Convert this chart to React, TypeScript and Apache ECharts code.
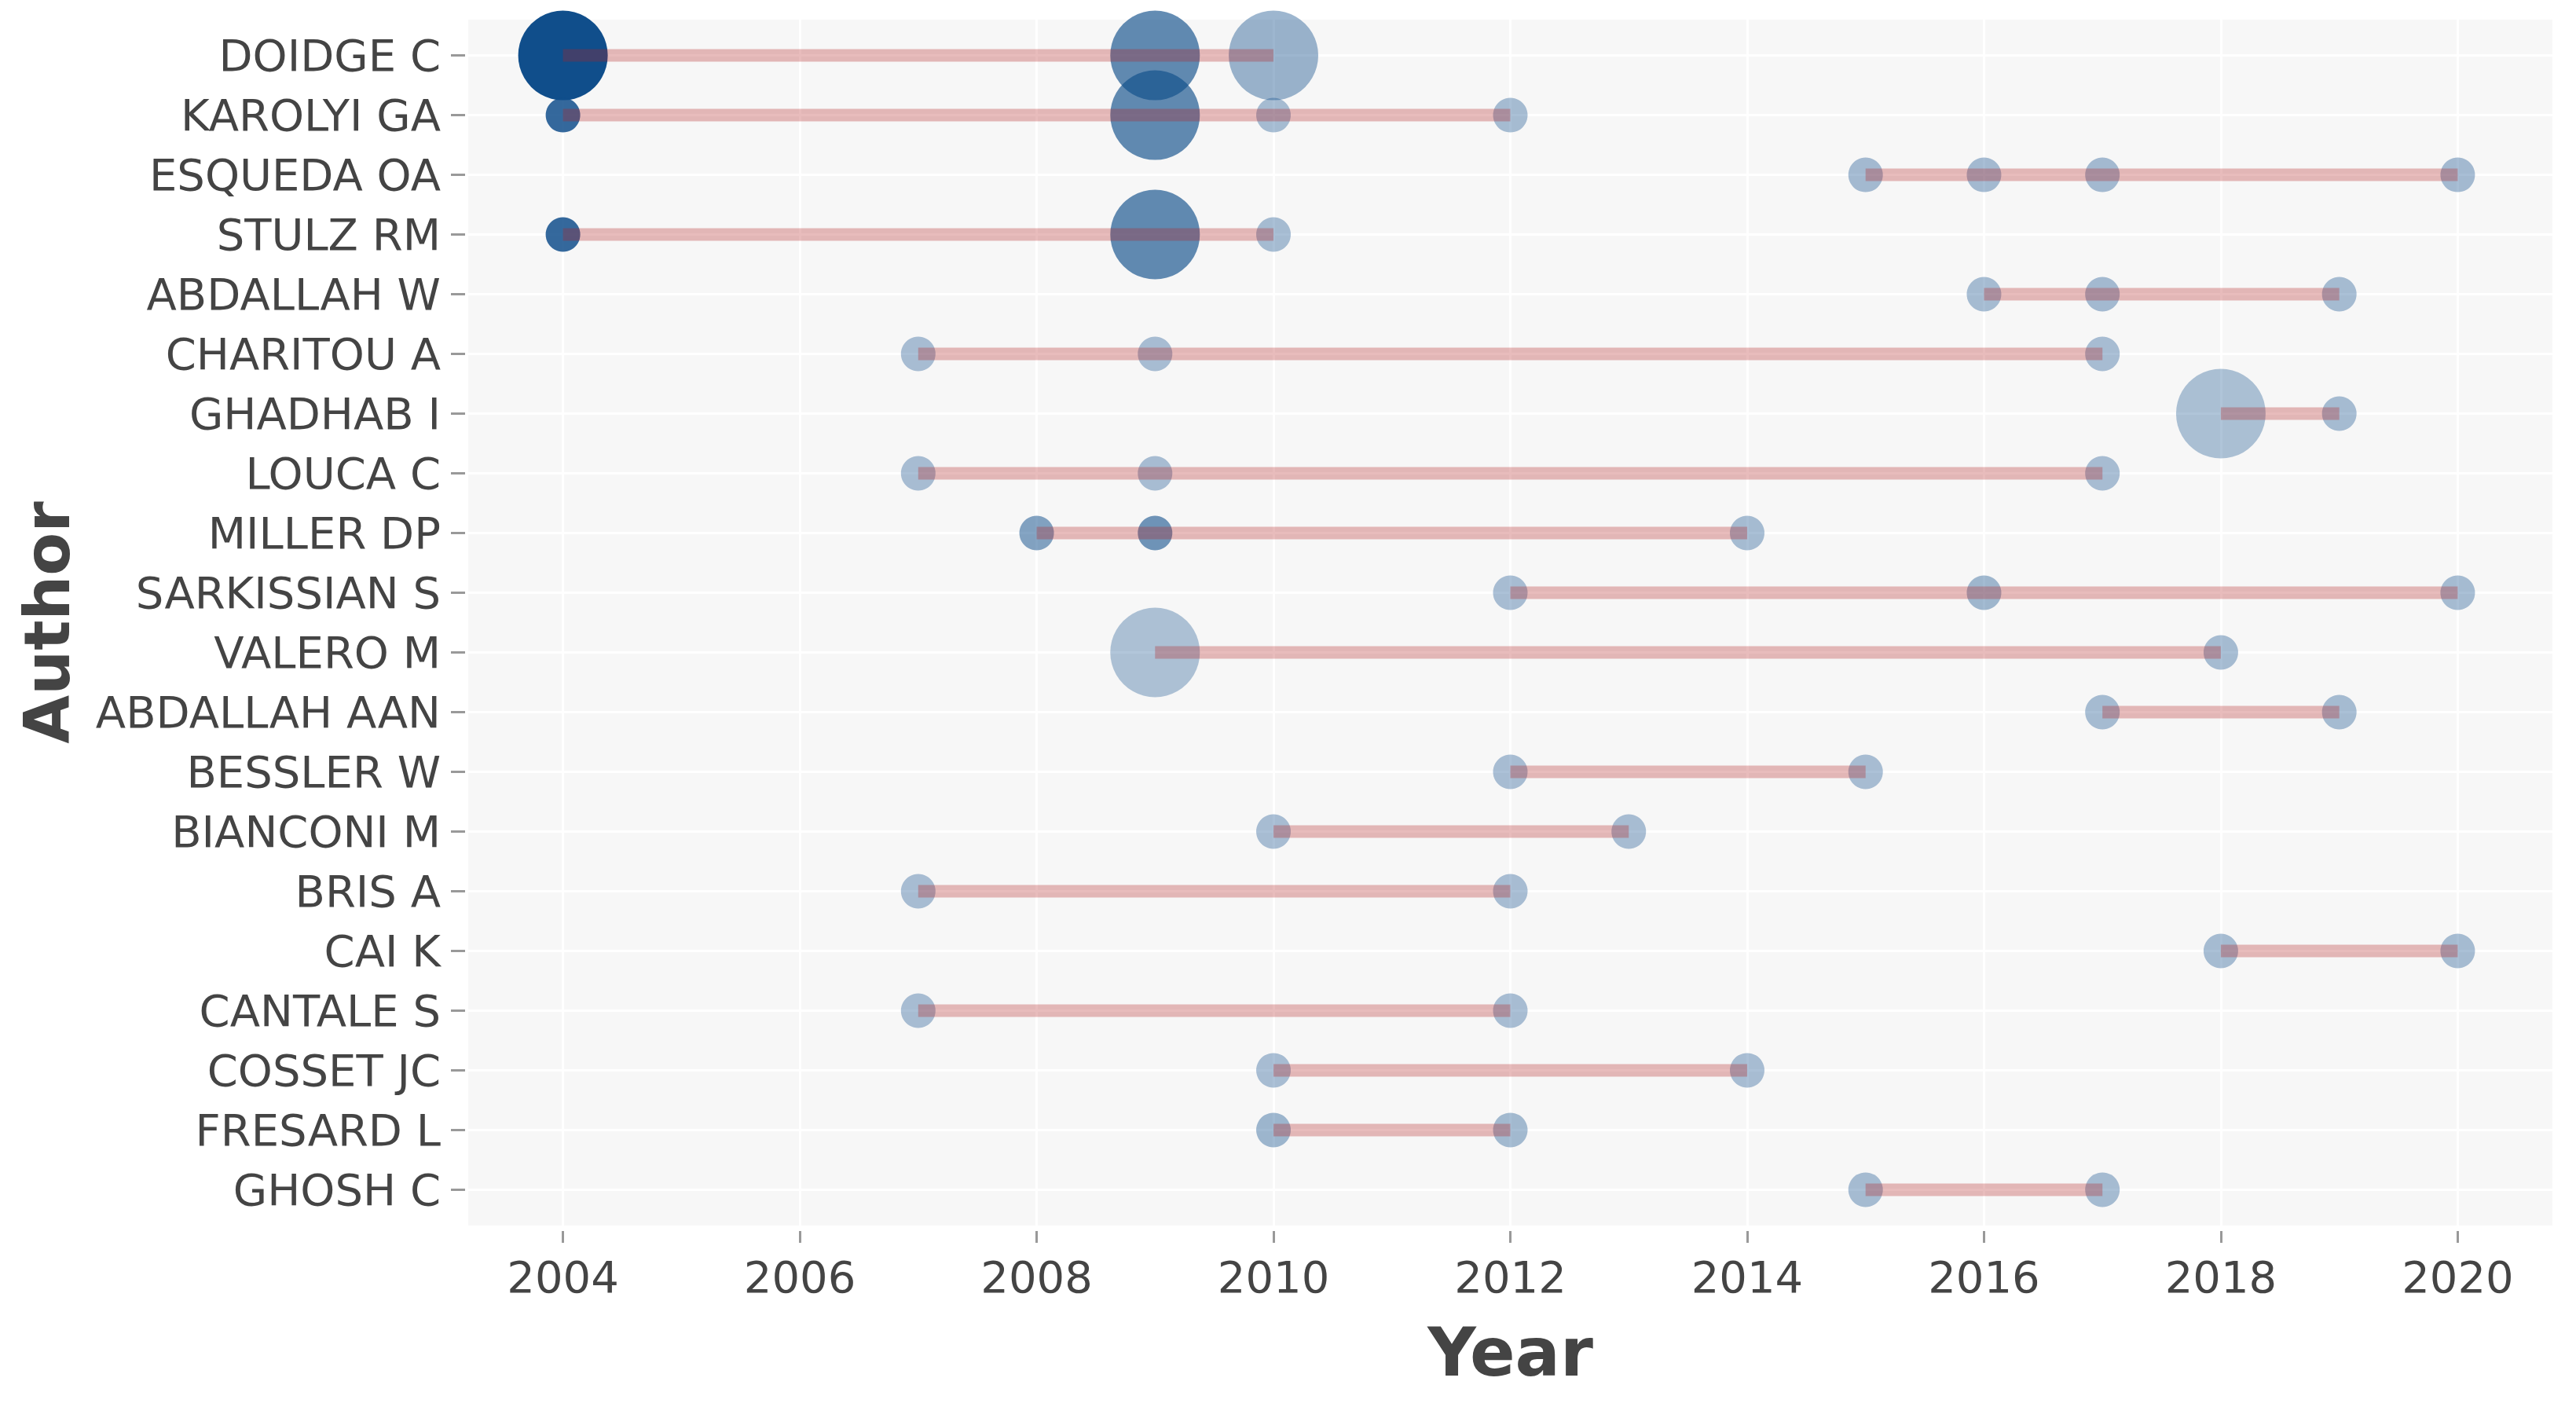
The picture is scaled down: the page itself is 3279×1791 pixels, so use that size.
import React, { useEffect, useRef } from "react";
import * as echarts from "echarts";

// Authors (top to bottom)
const authors = [
  "DOIDGE C", "KAROLYI GA", "ESQUEDA OA", "STULZ RM", "ABDALLAH W",
  "CHARITOU A", "GHADHAB I", "LOUCA C", "MILLER DP", "SARKISSIAN S",
  "VALERO M", "ABDALLAH AAN", "BESSLER W", "BIANCONI M", "BRIS A",
  "CAI K", "CANTALE S", "COSSET JC", "FRESARD L", "GHOSH C",
];

// Publication years per author
const pubYears: number[][] = [
  [2004, 2009, 2010],
  [2004, 2009, 2010, 2012],
  [2015, 2016, 2017, 2020],
  [2004, 2009, 2010],
  [2016, 2017, 2019],
  [2007, 2009, 2017],
  [2018, 2019],
  [2007, 2009, 2017],
  [2008, 2009, 2014],
  [2012, 2016, 2020],
  [2009, 2018],
  [2017, 2019],
  [2012, 2015],
  [2010, 2013],
  [2007, 2012],
  [2018, 2020],
  [2007, 2012],
  [2010, 2014],
  [2010, 2012],
  [2015, 2017],
];

// Number of articles per author-year
const nArticles: number[][] = [
  [2, 2, 2],
  [1, 2, 1, 1],
  [1, 1, 1, 1],
  [1, 2, 1],
  [1, 1, 1],
  [1, 1, 1],
  [2, 1],
  [1, 1, 1],
  [1, 1, 1],
  [1, 1, 1],
  [2, 1],
  [1, 1],
  [1, 1],
  [1, 1],
  [1, 1],
  [1, 1],
  [1, 1],
  [1, 1],
  [1, 1],
  [1, 1],
];

// Total citations per year (estimated)
const tcPerYear: number[][] = [
  [10, 5.0, 1.6],
  [7.8, 5.0, 0.8, 0.8],
  [0.9, 0.9, 0.9, 0.9],
  [7.8, 5.0, 0.8],
  [0.8, 0.9, 0.8],
  [0.7, 0.7, 0.7],
  [0.4, 0.8],
  [0.7, 0.7, 0.7],
  [3.0, 4.2, 0.8],
  [0.7, 1.2, 0.8],
  [0.3, 0.8],
  [0.8, 0.8],
  [0.7, 0.7],
  [0.7, 0.7],
  [0.7, 0.7],
  [0.8, 0.8],
  [0.7, 0.7],
  [0.7, 0.7],
  [1.3, 1.0],
  [0.8, 0.8],
];

const yearTicks = [2004, 2006, 2008, 2010, 2012, 2014, 2016, 2018, 2020];

export default function App() {
  const ref = useRef<HTMLDivElement>(null);

  useEffect(() => {
    if (!ref.current) return;
    const chart = echarts.init(ref.current, null, { renderer: "svg" });

    const points: number[][] = [];
    const segments: number[][] = [];
    authors.forEach((_, i) => {
      const ys = pubYears[i];
      ys.forEach((y, j) => points.push([y, i, nArticles[i][j], tcPerYear[i][j]]));
      segments.push([Math.min(...ys), Math.max(...ys), i]);
    });

    const authorIdx = authors.map((_, i) => i);
    const font = "DejaVu Sans";

    chart.setOption({
      animation: false,
      backgroundColor: "#ffffff",
      textStyle: { fontFamily: font },
      grid: {
        left: 596,
        right: 30,
        top: 25,
        bottom: 231,
        show: true,
        backgroundColor: "#f7f7f7",
        borderWidth: 0,
        containLabel: false,
      },
      xAxis: {
        type: "value",
        position: "bottom",
        min: 2003.2,
        max: 2020.8,
        offset: 7,
        name: "Year",
        nameLocation: "middle",
        nameGap: 112,
        nameTextStyle: { fontSize: 85, fontWeight: "bold", color: "#444", fontFamily: font },
        axisLine: { show: false, onZero: false },
        axisTick: { show: true, length: 15, lineStyle: { color: "#999", width: 3 }, customValues: yearTicks },
        axisLabel: {
          fontSize: 56,
          color: "#444",
          margin: 30,
          fontFamily: font,
          customValues: yearTicks,
          formatter: (v: number) => String(v),
        },
        splitLine: { show: true, lineStyle: { color: "#ffffff", width: 3 } },
      },
      yAxis: {
        type: "value",
        position: "left",
        min: -0.6,
        max: 19.6,
        inverse: true,
        offset: 4,
        name: "Author",
        nameLocation: "middle",
        nameGap: 492,
        nameRotate: 90,
        nameTextStyle: { fontSize: 80, fontWeight: "bold", color: "#444", fontFamily: font },
        axisLine: { show: false, onZero: false },
        axisTick: { show: true, length: 18, lineStyle: { color: "#999", width: 3 }, customValues: authorIdx },
        axisLabel: {
          fontSize: 56,
          color: "#444",
          margin: 31,
          fontFamily: font,
          customValues: authorIdx,
          formatter: (v: number) => authors[Math.round(v)] ?? "",
        },
        splitLine: { show: true, lineStyle: { color: "#ffffff", width: 3 } },
      },
      visualMap: [
        {
          type: "continuous",
          show: false,
          seriesIndex: 0,
          dimension: 2,
          min: 1,
          max: 2,
          inRange: { symbolSize: [44, 114] },
        },
        {
          type: "continuous",
          show: false,
          seriesIndex: 0,
          dimension: 3,
          min: 0,
          max: 10,
          inRange: { colorAlpha: [0.3, 1] },
        },
      ],
      series: [
        {
          type: "scatter",
          data: points,
          symbol: "circle",
          clip: true,
          itemStyle: { color: "#104E8B", opacity: 1 },
          encode: { x: 0, y: 1 },
          z: 2,
        },
        {
          type: "custom",
          data: segments,
          encode: { x: [0, 1], y: 2 },
          clip: true,
          z: 3,
          renderItem: (params: any, api: any) => {
            const a = api.coord([api.value(0), api.value(2)]);
            const b = api.coord([api.value(1), api.value(2)]);
            return {
              type: "line",
              shape: { x1: a[0], y1: a[1], x2: b[0], y2: b[1] },
              style: { stroke: "rgba(178,34,34,0.3)", lineWidth: 16, lineCap: "butt" },
            };
          },
        },
      ],
    });

    return () => chart.dispose();
  }, []);

  return (
    <div
      ref={ref}
      style={{ position: "absolute", left: 0, top: 0, width: 3279, height: 1791 }}
    />
  );
}
